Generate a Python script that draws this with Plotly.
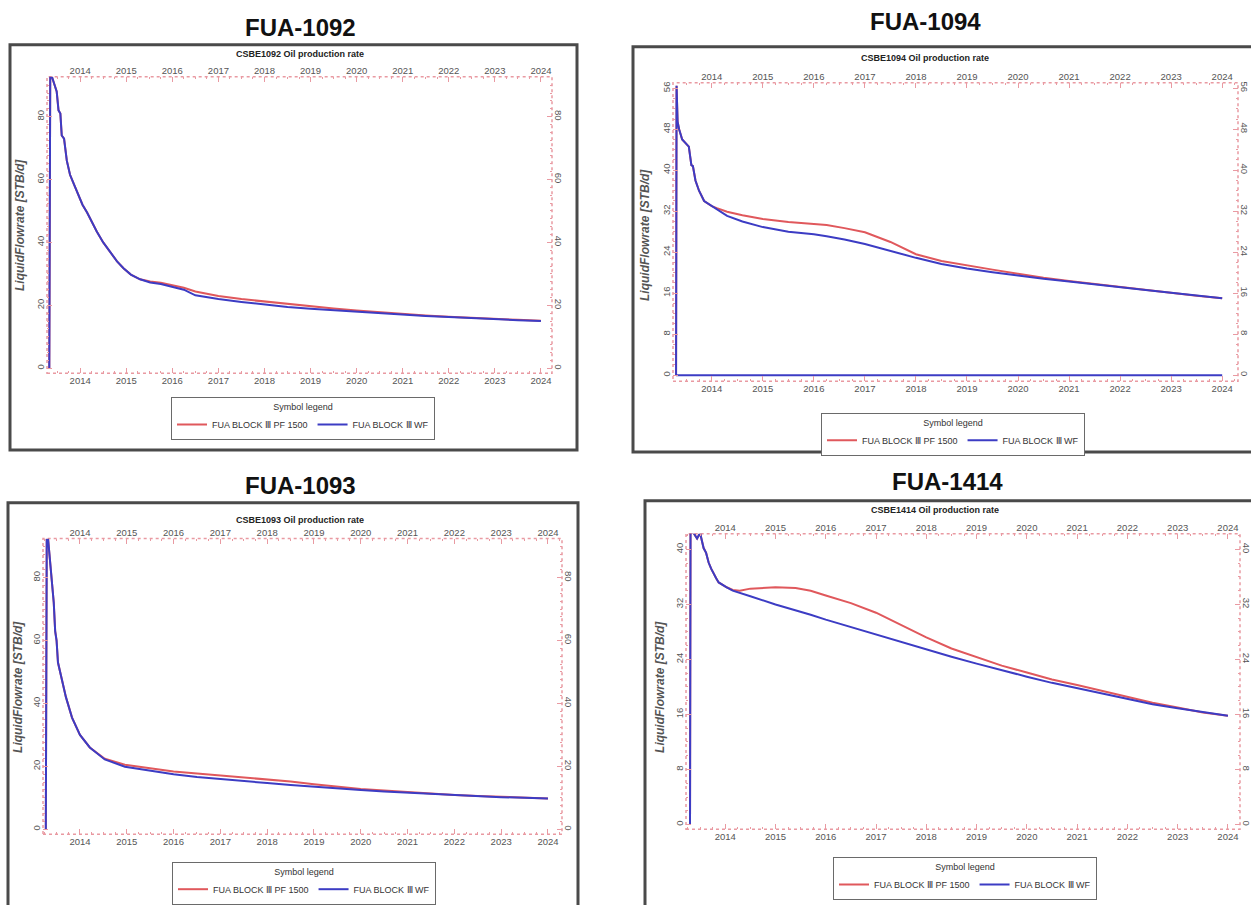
import plotly.graph_objects as go

W, H = 1251, 905
FONT = "Liberation Sans Narrow, Liberation Sans, Arial, sans-serif"
RED = "#e0585c"
BLUE = "#3c3cc4"
PINK = "#e99aa2"
GRAYTXT = "#555555"

# ---------------- data ----------------
years = list(range(2014, 2025))
legend_title = "Symbol legend"
name_pf = "FUA BLOCK Ⅲ PF 1500"
name_wf = "FUA BLOCK Ⅲ WF"
y_title = "LiquidFlowrate [STB/d]"

# FUA-1092
t_1092 = [2013.33, 2013.35, 2013.39, 2013.45, 2013.49, 2013.53, 2013.57, 2013.60, 2013.65,
          2013.71, 2013.78, 2013.85, 2013.93, 2014.05, 2014.15, 2014.25, 2014.36, 2014.50,
          2014.65, 2014.80, 2014.94, 2015.10, 2015.30, 2015.52, 2015.75, 2016.00, 2016.25,
          2016.50, 2016.75, 2017.00, 2017.50, 2018.00, 2018.50, 2019.00, 2019.50, 2020.00,
          2020.50, 2021.00, 2021.50, 2022.00, 2022.50, 2023.00, 2023.50, 2024.00]
wf_1092 = [0, 92.5, 92.5, 90.0, 88.0, 82.0, 81.0, 74.0, 73.0,
           66.0, 61.5, 59.0, 56.0, 52.0, 49.5, 46.5, 43.5, 40.0,
           36.8, 34.0, 31.8, 29.8, 28.3, 27.3, 26.8, 26.0, 25.0,
           23.2, 22.6, 22.0, 21.1, 20.2, 19.5, 18.9, 18.4, 17.9,
           17.4, 17.0, 16.6, 16.3, 15.9, 15.6, 15.3, 15.0]
pf_1092 = [0, 92.5, 92.5, 90.0, 88.0, 82.0, 81.0, 74.0, 73.0,
           66.0, 61.5, 59.0, 56.0, 52.0, 49.5, 46.5, 43.5, 40.0,
           36.8, 34.0, 31.8, 29.8, 28.3, 27.6, 27.2, 26.4, 25.6,
           24.4, 23.6, 23.0, 22.0, 21.2, 20.4, 19.7, 19.0, 18.4,
           17.8, 17.3, 16.8, 16.4, 16.0, 15.7, 15.4, 15.1]

# FUA-1094
t_1094 = [2013.30, 2013.31, 2013.33, 2013.36, 2013.42, 2013.50, 2013.55, 2013.60, 2013.63,
          2013.68, 2013.75, 2013.85, 2014.00, 2014.10, 2014.30, 2014.60, 2015.00, 2015.50,
          2016.00, 2016.25, 2016.60, 2017.00, 2017.50, 2018.00, 2018.50, 2019.00, 2019.50,
          2020.00, 2020.50, 2021.00, 2021.50, 2022.00, 2022.50, 2023.00, 2023.50, 2024.00]
wf_1094 = [0, 56.5, 49.5, 48.0, 46.0, 45.0, 44.6, 41.0, 40.8,
           38.0, 36.0, 34.0, 33.0, 32.3, 31.1, 30.0, 28.9, 28.0,
           27.5, 27.1, 26.5, 25.6, 24.2, 22.9, 21.7, 20.8, 20.1,
           19.4, 18.8, 18.3, 17.7, 17.2, 16.6, 16.1, 15.5, 15.0]
pf_1094 = [0, 56.5, 49.5, 48.0, 46.0, 45.0, 44.6, 41.0, 40.8,
           38.0, 36.0, 34.0, 33.0, 32.6, 31.9, 31.2, 30.5, 29.9,
           29.5, 29.3, 28.7, 27.9, 26.0, 23.6, 22.3, 21.4, 20.6,
           19.8, 19.0, 18.4, 17.8, 17.3, 16.7, 16.1, 15.5, 15.0]
t_1094_zero = [2013.30, 2024.00]
wf_1094_zero = [0, 0]

# FUA-1093
t_1093 = [2013.27, 2013.29, 2013.32, 2013.36, 2013.42, 2013.44, 2013.47, 2013.50, 2013.53,
          2013.58, 2013.62, 2013.70, 2013.83, 2014.00, 2014.21, 2014.53, 2014.96, 2015.50,
          2016.00, 2016.50, 2017.00, 2017.50, 2018.00, 2018.50, 2019.00, 2019.50, 2020.00,
          2020.50, 2021.00, 2021.50, 2022.00, 2022.50, 2023.00, 2023.50, 2024.00]
wf_1093 = [0, 92.0, 92.0, 86.0, 77.0, 72.0, 63.0, 60.0, 53.0,
           50.0, 47.0, 42.0, 35.5, 30.0, 26.0, 22.2, 19.9, 18.6,
           17.5, 16.6, 15.9, 15.3, 14.7, 14.1, 13.5, 13.0, 12.5,
           12.0, 11.6, 11.2, 10.8, 10.5, 10.2, 10.0, 9.8]
pf_1093 = [0, 92.0, 92.0, 86.0, 77.0, 72.0, 63.0, 60.0, 53.0,
           50.0, 47.0, 42.0, 35.5, 30.0, 26.0, 22.4, 20.5, 19.4,
           18.4, 17.7, 17.1, 16.6, 16.0, 15.2, 14.3, 13.5, 12.8,
           12.3, 11.8, 11.3, 10.9, 10.6, 10.3, 10.0, 9.8]

# FUA-1414
t_1414 = [2013.30, 2013.31, 2013.37, 2013.44, 2013.50, 2013.57, 2013.62, 2013.67, 2013.72,
          2013.77, 2013.82, 2013.87, 2013.95, 2014.03, 2014.15, 2014.29, 2014.50, 2015.00,
          2015.40, 2015.70, 2016.00, 2016.50, 2017.00, 2017.50, 2018.00, 2018.50, 2019.00,
          2019.50, 2020.00, 2020.50, 2021.00, 2021.50, 2022.00, 2022.50, 2023.00, 2023.50,
          2024.00]
wf_1414 = [0, 42.4, 42.4, 41.6, 42.4, 40.2, 39.5, 38.1, 37.2,
           36.4, 35.8, 35.2, 34.8, 34.5, 34.0, 33.7, 33.2, 32.0,
           31.2, 30.5, 29.8, 28.7, 27.6, 26.5, 25.4, 24.4, 23.4,
           22.4, 21.5, 20.6, 19.8, 19.0, 18.2, 17.5, 16.9, 16.3,
           15.8]
pf_1414 = [0, 42.4, 42.4, 41.6, 42.4, 40.2, 39.5, 38.1, 37.2,
           36.4, 35.8, 35.2, 34.8, 34.5, 34.1, 34.0, 34.3, 34.5,
           34.4, 34.0, 33.3, 32.2, 30.8, 29.0, 27.2, 25.6, 24.3,
           23.1, 22.1, 21.1, 20.3, 19.4, 18.6, 17.7, 17.0, 16.3,
           15.8]

panels = [
    dict(title="FUA-1092", sub="CSBE1092 Oil production rate", t=t_1092, pf=pf_1092, wf=wf_1092,
         extra=None),
    dict(title="FUA-1094", sub="CSBE1094 Oil production rate", t=t_1094, pf=pf_1094, wf=wf_1094,
         extra=(t_1094_zero, wf_1094_zero)),
    dict(title="FUA-1093", sub="CSBE1093 Oil production rate", t=t_1093, pf=pf_1093, wf=wf_1093,
         extra=None),
    dict(title="FUA-1414", sub="CSBE1414 Oil production rate", t=t_1414, pf=pf_1414, wf=wf_1414,
         extra=None),
]

# ---------------- geometry (pixels) ----------------
geo = [
    dict(plot=(47, 552, 77, 375), xr=(2013.28, 2024.24), yr=(-1.6, 92.7), dt=20, mdt=2.5,
         box=(10, 577, 45, 452), title=(300, 28), sub=(300, 54), ytitle=(20, 226), leg=(303, 399)),
    dict(plot=(673, 1238, 83, 383), xr=(2013.24, 2024.31), yr=(-1.2, 57.1), dt=8, mdt=2,
         box=(633, 1262, 47, 454), title=(925, 22), sub=(925, 58), ytitle=(645, 236), leg=(953, 415)),
    dict(plot=(43, 562, 541, 838), xr=(2013.21, 2024.30), yr=(-1.6, 92.4), dt=20, mdt=2.5,
         box=(8, 578, 505, 915), title=(300, 488), sub=(300, 522), ytitle=(18, 690), leg=(304, 866)),
    dict(plot=(686, 1240, 536, 833), xr=(2013.22, 2024.24), yr=(-0.7, 42.3), dt=8, mdt=2,
         box=(645, 1262, 503, 915), title=(948, 484), sub=(935, 512), ytitle=(660, 690), leg=(965, 861)),
]

fig = go.Figure()
layout = dict(width=W, height=H, margin=dict(l=0, r=0, t=0, b=0),
              paper_bgcolor="white", plot_bgcolor="white", showlegend=True)
shapes, annotations = [], []


def px(x):
    return x / W


def py(y):
    return 1 - y / H


tickfont = dict(family=FONT, size=9.5, color=GRAYTXT)

for i, (p, g) in enumerate(zip(panels, geo)):
    a = 2 * i + 1
    b = a + 1
    xa, xb = f"x{a}" if a > 1 else "x", f"x{b}"
    ya, yb = f"y{a}" if a > 1 else "y", f"y{b}"
    xka, xkb = f"xaxis{a}" if a > 1 else "xaxis", f"xaxis{b}"
    yka, ykb = f"yaxis{a}" if a > 1 else "yaxis", f"yaxis{b}"
    leg = "legend" if i == 0 else f"legend{i + 1}"
    x0, x1, y0, y1 = g["plot"]

    common_x = dict(range=list(g["xr"]), tickmode="linear", tick0=2014, dtick=1,
                    ticks="inside", ticklen=5, tickcolor=PINK, tickwidth=1,
                    showgrid=False, zeroline=False, showline=False, tickfont=tickfont,
                    minor=dict(ticks="inside", ticklen=2, tickcolor=PINK, tick0=2014, dtick=0.25,
                               showgrid=False))
    layout[xka] = dict(domain=[px(x0), px(x1)], anchor=ya, side="bottom", **common_x)
    layout[xkb] = dict(overlaying=xa, anchor=ya, side="top", **common_x)
    common_y = dict(range=list(g["yr"]), tickmode="linear", tick0=0, dtick=g["dt"],
                    ticks="inside", ticklen=5, tickcolor=PINK, tickwidth=1,
                    showgrid=False, zeroline=False, showline=False, tickfont=tickfont,
                    minor=dict(ticks="inside", ticklen=2, tickcolor=PINK, dtick=g["mdt"],
                               showgrid=False))
    layout[yka] = dict(domain=[py(y1), py(y0)], anchor=xa, side="left", tickangle=-90, **common_y)
    layout[ykb] = dict(overlaying=ya, anchor=xa, side="right", tickangle=90, **common_y)

    # traces
    fig.add_trace(go.Scatter(x=p["t"], y=p["pf"], mode="lines", name=name_pf,
                             line=dict(color=RED, width=2), xaxis=xa, yaxis=ya, legend=leg))
    fig.add_trace(go.Scatter(x=p["t"], y=p["wf"], mode="lines", name=name_wf,
                             line=dict(color=BLUE, width=2), xaxis=xa, yaxis=ya, legend=leg))
    if p["extra"] is not None:
        fig.add_trace(go.Scatter(x=p["extra"][0], y=p["extra"][1], mode="lines", name=name_wf,
                                 line=dict(color=BLUE, width=2), xaxis=xa, yaxis=ya,
                                 showlegend=False))
    # helper so that the overlay (top/right) axes are drawn
    fig.add_trace(go.Scatter(x=p["t"], y=p["wf"], mode="lines", opacity=0, hoverinfo="skip",
                             showlegend=False, xaxis=xb, yaxis=yb, line=dict(width=1)))

    # dotted frame of the plot area
    shapes.append(dict(type="rect", xref=f"{xa} domain", yref=f"{ya} domain",
                       x0=0, x1=1, y0=0, y1=1, line=dict(color=PINK, width=1.5, dash="dot"),
                       layer="below"))
    # outer panel box
    bx0, bx1, by0, by1 = g["box"]
    shapes.append(dict(type="rect", xref="paper", yref="paper",
                       x0=px(bx0), x1=px(bx1), y0=py(by1), y1=py(by0),
                       line=dict(color="#4a4a4a", width=3), layer="below"))

    annotations.append(dict(text=f"<b>{p['title']}</b>", x=px(g["title"][0]), y=py(g["title"][1]),
                            xref="paper", yref="paper", showarrow=False,
                            font=dict(family="Liberation Sans, Arial", size=24, color="#111"),
                            xanchor="center", yanchor="middle"))
    annotations.append(dict(text=f"<b>{p['sub']}</b>", x=px(g["sub"][0]), y=py(g["sub"][1]),
                            xref="paper", yref="paper", showarrow=False,
                            font=dict(family=FONT, size=9, color="#222"),
                            xanchor="center", yanchor="middle"))
    annotations.append(dict(text=f"<b><i>{y_title}</i></b>", x=px(g["ytitle"][0]),
                            y=py(g["ytitle"][1]), xref="paper", yref="paper", showarrow=False,
                            textangle=-90, font=dict(family="Liberation Sans, Arial", size=12,
                                                     color=GRAYTXT),
                            xanchor="center", yanchor="middle"))

    layout[leg] = dict(x=px(g["leg"][0]), y=py(g["leg"][1]), xref="paper", yref="paper",
                       xanchor="center", yanchor="top", orientation="h",
                       bgcolor="white", bordercolor="#6a6a6a", borderwidth=1,
                       font=dict(family=FONT, size=9, color="#333"),
                       title=dict(text=legend_title, side="top center",
                                  font=dict(family=FONT, size=9, color="#333")),
                       itemwidth=30, tracegroupgap=0)

layout["shapes"] = shapes
layout["annotations"] = annotations
fig.update_layout(**layout)
fig.write_html("out.html")
